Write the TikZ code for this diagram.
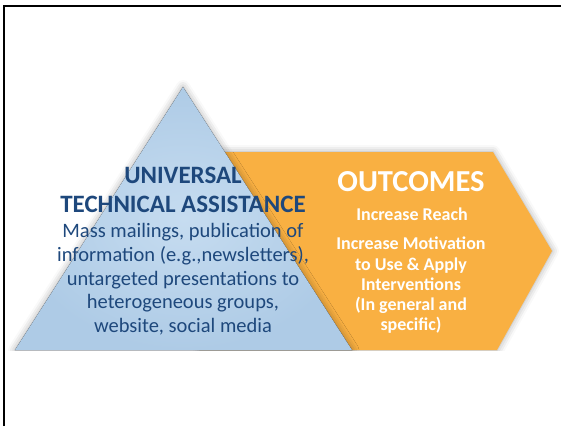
\documentclass[tikz,border=0pt]{standalone}
\usepackage{fontspec}
\setmainfont{Carlito}
\usetikzlibrary{shadows.blur}
\definecolor{triblue}{RGB}{174,203,230}
\definecolor{trilight}{RGB}{198,220,240}
\definecolor{arroworange}{RGB}{249,176,66}
\definecolor{textblue}{RGB}{30,72,124}
\begin{document}
\begin{tikzpicture}[x=1pt, y=-1pt, every node/.style={inner sep=0pt, align=center},
	softshadow/.style={blur shadow={shadow xshift=0pt, shadow yshift=0pt, shadow blur radius=7pt, shadow opacity=35}}]
	\useasboundingbox (0,0) rectangle (561,426);
	% 边框
	\draw[line width=2pt] (4.3,426) -- (4.3,6) -- (561,6);
	
	% 橙色五边形与蓝色三角形
	\begin{scope}
		\clip (0,0) rectangle (561,350);
		\fill[arroworange, softshadow] (200,152) -- (493,152) -- (552,251) -- (497,350) -- (200,350) -- cycle;
		\fill[inner color=trilight, outer color=triblue, softshadow] (15,350) -- (183,87) -- (352,350) -- cycle;
	\end{scope}
	
	% 三角形文字 (base = 最后一行基线)
	\node[anchor=base, text=textblue, font=\fontsize{25}{29.4}\selectfont\bfseries] (uta) at (183,212.7)
		{UNIVERSAL\\TECHNICAL ASSISTANCE};
	\node[anchor=base, text=textblue, font=\fontsize{20.5}{23.8}\selectfont] (utadesc) at (183,332.7)
		{Mass mailings, publication of\\information (e.g.,newsletters),\\
		 untargeted presentations to\\heterogeneous groups,\\website, social media};
	
	% 五边形文字
	\node[anchor=base, text=white, font=\fontsize{30.5}{32}\selectfont\bfseries] (outcomes) at (411,191.7) {OUTCOMES};
	\node[anchor=base, text=white, font=\fontsize{18}{20.2}\selectfont\bfseries] (reach) at (412,220) {Increase Reach};
	\node[anchor=base, text=white, font=\fontsize{18}{20.2}\selectfont\bfseries] (motivation) at (411,330.7)
		{Increase Motivation\\to Use \& Apply\\Interventions\\(In general and\\specific)};
\end{tikzpicture}
\end{document}
